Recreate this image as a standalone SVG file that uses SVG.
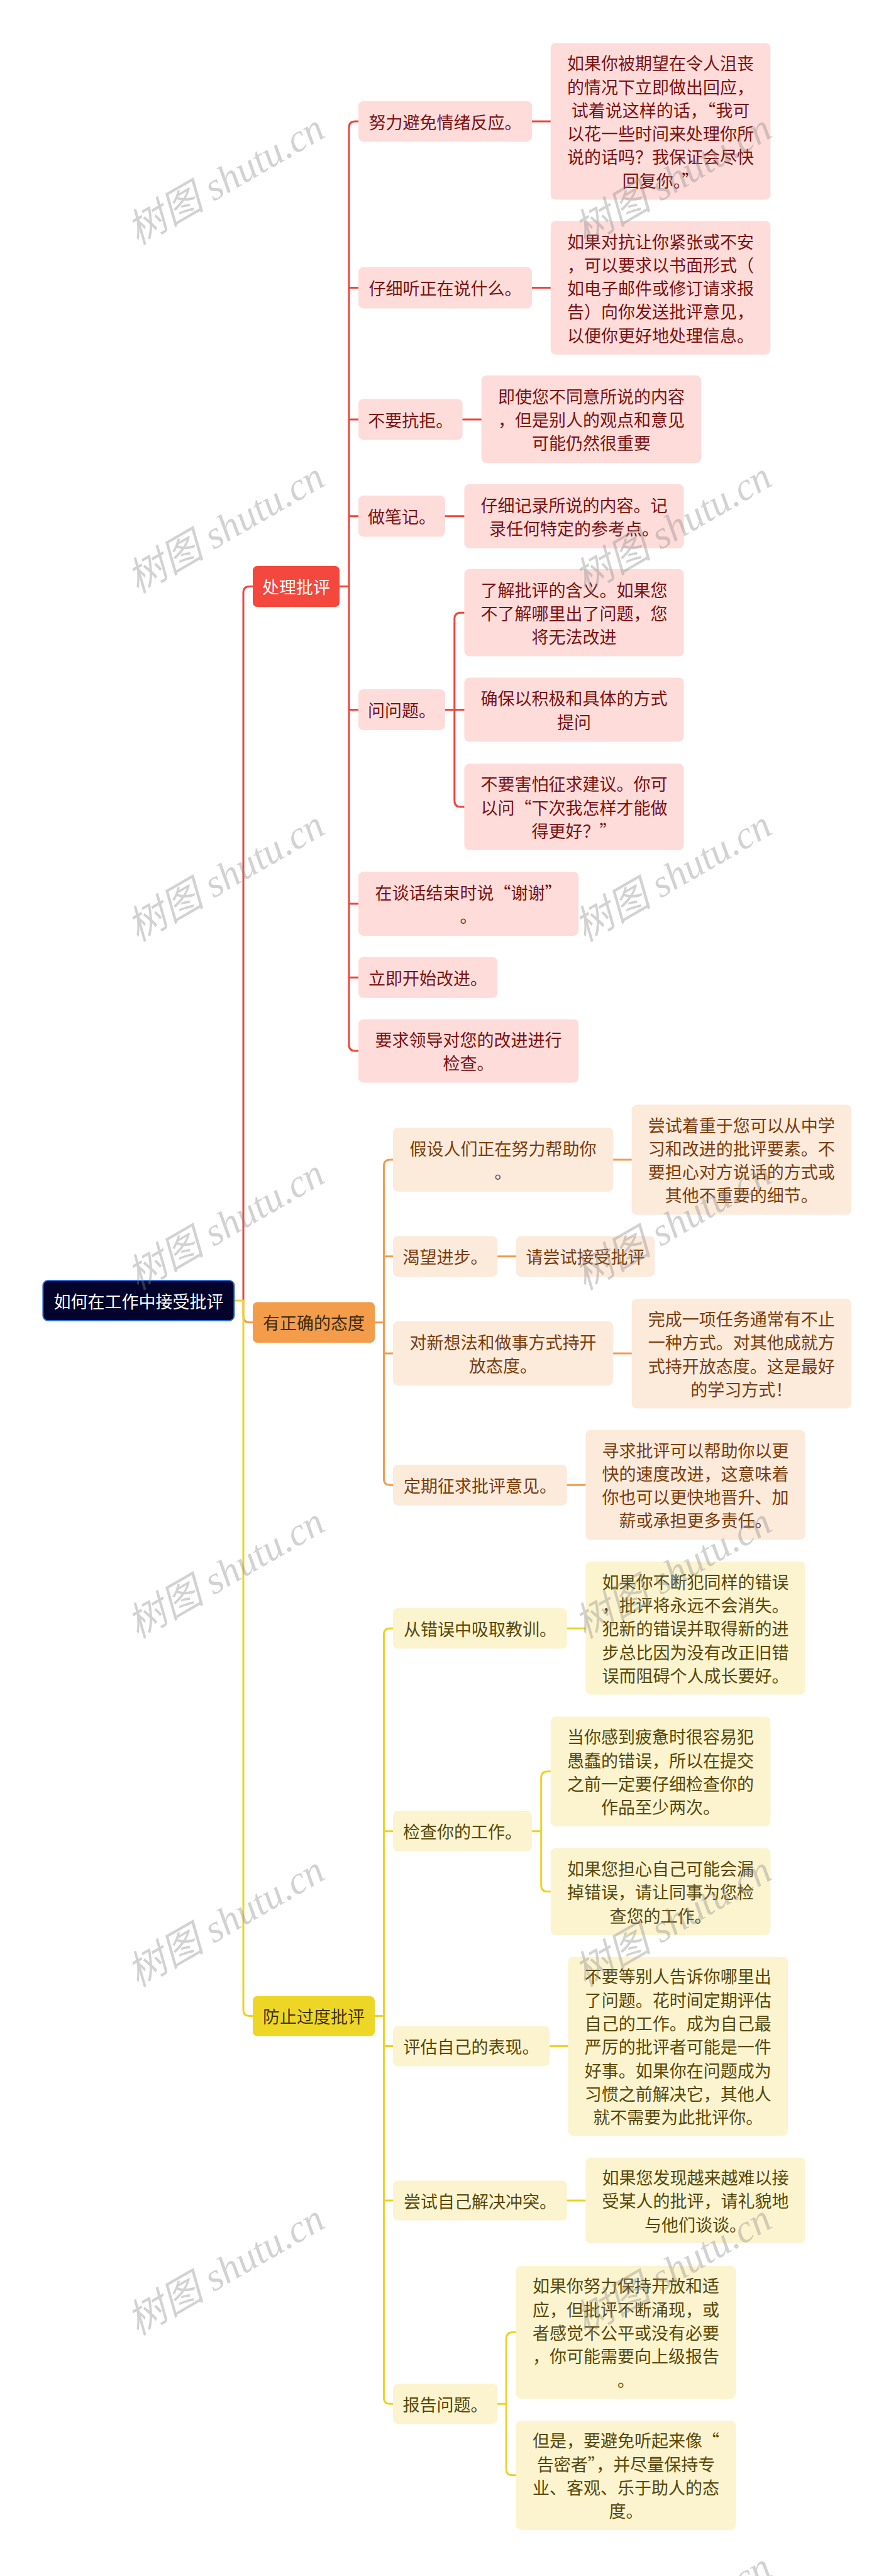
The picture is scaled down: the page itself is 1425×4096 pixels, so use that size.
<svg xmlns="http://www.w3.org/2000/svg" width="1425" height="4096" viewBox="0 0 1425 4096">
<style>
text{font-family:"Noto Sans CJK SC","Liberation Sans",sans-serif;font-size:27px;dominant-baseline:central;text-anchor:middle}
.nr{fill:#FDDCDA}.no{fill:#FCEADB}.ny{fill:#FCF4CF}
.tr{fill:#7A1212}.to{fill:#7A3C0C}.ty{fill:#57470A}
.cr,.co,.cy{fill:none;stroke-width:3;stroke-linecap:round;stroke-linejoin:round}
.cr{stroke:#F0453D}.co{stroke:#F39C4A}.cy{stroke:#EDD226}
.wm{font-family:"Liberation Serif","Noto Sans CJK SC",serif;font-style:italic;font-size:62px;fill:#888;fill-opacity:0.38}
</style>
<rect width="1425" height="4096" fill="#FFFFFF"/>
<g id="connectors">
<path class="cr" d="M387,2068 V942.5 Q387,932.5 397,932.5 H402"/>
<path class="co" d="M387,2068 V2092.7 Q387,2102.7 397,2102.7 H402"/>
<path class="cy" d="M372.5,2068 H387 V3195.5 Q387,3205.5 397,3205.5 H402"/>
<path class="cr" d="M540,932.5 H555 M570,193 H565 Q555,193 555,203 V1661 Q555,1671 565,1671 H570 M555,457.6 H570 M555,667 H570 M555,820.7 H570 M555,1128.5 H570 M555,1437 H570 M555,1554.3 H570"/>
<path class="cr" d="M846,193 H875.7 M846,457.6 H875.7 M735.6,667 H765.6 M707.8,820.7 H738.4"/>
<path class="cr" d="M707.8,1128.5 H722.8 M738.4,974.3 H732.8 Q722.8,974.3 722.8,984.3 V1273 Q722.8,1283 732.8,1283 H738.4 M722.8,1128.4 H738.4"/>
<path class="co" d="M596,2102.7 H610.5 M625,1844 H620.5 Q610.5,1844 610.5,1854 V2351.3 Q610.5,2361.3 620.5,2361.3 H625 M610.5,1997.7 H625 M610.5,2152 H625"/>
<path class="co" d="M975.2,1844 H1004.7 M791.2,1997.7 H820.7 M975.2,2152 H1004.7 M901.8,2361.3 H931.3"/>
<path class="cy" d="M596,3205.5 H610.5 M625,2589.3 H620.5 Q610.5,2589.3 610.5,2599.3 V3812.3 Q610.5,3822.3 620.5,3822.3 H625 M610.5,2911.8 H625 M610.5,3253.4 H625 M610.5,3499 H625"/>
<path class="cy" d="M901.8,2589.3 H931.3 M874,3253.4 H903.5 M901.8,3499 H931.3"/>
<path class="cy" d="M846.2,2911.8 H860.7 M875.7,2816.7 H870.7 Q860.7,2816.7 860.7,2826.7 V2997.7 Q860.7,3007.7 870.7,3007.7 H875.7"/>
<path class="cy" d="M791.2,3822.3 H805.1 M820.7,3708.5 H815.1 Q805.1,3708.5 805.1,3718.5 V3925.8 Q805.1,3935.8 815.1,3935.8 H820.7"/>
</g>
<g id="root"><rect x="68.4" y="2036" width="304" height="64" rx="8" fill="#03032B" stroke="#2B6CD4" stroke-width="2"/><text x="220.4" y="2068" fill="#FFFFFF">如何在工作中接受批评</text></g>
<g id="b1"><rect x="402" y="900" width="138" height="65" rx="7" fill="#F4473D"/><text x="471" y="932.5" fill="#FFFFFF">处理批评</text></g>
<g id="b2"><rect x="402" y="2070.5" width="194" height="64.5" rx="7" fill="#F39C4A"/><text x="499" y="2102.7" fill="#3D2A12">有正确的态度</text></g>
<g id="b3"><rect x="402" y="3174" width="194" height="63.5" rx="7" fill="#EED626"/><text x="499" y="3205.5" fill="#3D3300">防止过度批评</text></g>
<g id="n1"><rect class="nr" x="570" y="160.7" width="276" height="64.5" rx="8"/><text class="tr" x="708" y="193">努力避免情绪反应。</text></g>
<g id="d1"><rect class="nr" x="875.7" y="68.4" width="349.7" height="249.1" rx="8"/><text class="tr" x="1050.5" y="99.75">如果你被期望在令人沮丧</text><text class="tr" x="1050.5" y="137.05">的情况下立即做出回应，</text><text class="tr" x="1050.5" y="174.35">试着说这样的话，“我可</text><text class="tr" x="1050.5" y="211.65">以花一些时间来处理你所</text><text class="tr" x="1050.5" y="248.95">说的话吗？我保证会尽快</text><text class="tr" x="1050.5" y="286.25">回复你。”</text></g>
<g id="n2"><rect class="nr" x="570" y="424.8" width="276" height="65.6" rx="8"/><text class="tr" x="708" y="457.6">仔细听正在说什么。</text></g>
<g id="d2"><rect class="nr" x="875.7" y="351.4" width="349.7" height="212.4" rx="8"/><text class="tr" x="1050.5" y="383">如果对抗让你紧张或不安</text><text class="tr" x="1050.5" y="420.3">，可以要求以书面形式（</text><text class="tr" x="1050.5" y="457.6">如电子邮件或修订请求报</text><text class="tr" x="1050.5" y="494.9">告）向你发送批评意见，</text><text class="tr" x="1050.5" y="532.2">以便你更好地处理信息。</text></g>
<g id="n3"><rect class="nr" x="570" y="634.4" width="165.6" height="65" rx="8"/><text class="tr" x="652.8" y="667">不要抗拒。</text></g>
<g id="d3"><rect class="nr" x="765.6" y="597" width="349.7" height="139" rx="8"/><text class="tr" x="940.5" y="629.2">即使您不同意所说的内容</text><text class="tr" x="940.5" y="666.5">，但是别人的观点和意见</text><text class="tr" x="940.5" y="703.8">可能仍然很重要</text></g>
<g id="n4"><rect class="nr" x="570" y="788" width="137.8" height="65.5" rx="8"/><text class="tr" x="638.9" y="820.7">做笔记。</text></g>
<g id="d4"><rect class="nr" x="738.4" y="770" width="349.1" height="101.8" rx="8"/><text class="tr" x="913" y="802.2">仔细记录所说的内容。记</text><text class="tr" x="913" y="839.6">录任何特定的参考点。</text></g>
<g id="n5"><rect class="nr" x="570" y="1096" width="137.8" height="65" rx="8"/><text class="tr" x="638.9" y="1128.5">问问题。</text></g>
<g id="d5a"><rect class="nr" x="738.4" y="905" width="349.1" height="138.6" rx="8"/><text class="tr" x="913" y="937">了解批评的含义。如果您</text><text class="tr" x="913" y="974.3">不了解哪里出了问题，您</text><text class="tr" x="913" y="1011.6">将无法改进</text></g>
<g id="d5b"><rect class="nr" x="738.4" y="1077.5" width="349.1" height="101.8" rx="8"/><text class="tr" x="913" y="1109.7">确保以积极和具体的方式</text><text class="tr" x="913" y="1147.1">提问</text></g>
<g id="d5c"><rect class="nr" x="738.4" y="1214.3" width="349.1" height="137.3" rx="8"/><text class="tr" x="913" y="1245.7">不要害怕征求建议。你可</text><text class="tr" x="913" y="1283">以问“下次我怎样才能做</text><text class="tr" x="913" y="1320.3">得更好？”</text></g>
<g id="n6"><rect class="nr" x="570" y="1386" width="350.2" height="101.9" rx="8"/><text class="tr" x="745.1" y="1418.3">在谈话结束时说“谢谢”</text><text class="tr" x="745.1" y="1455.6">。</text></g>
<g id="n7"><rect class="nr" x="570" y="1521.8" width="221.2" height="65" rx="8"/><text class="tr" x="680.6" y="1554.3">立即开始改进。</text></g>
<g id="n8"><rect class="nr" x="570" y="1620.7" width="350.2" height="100.7" rx="8"/><text class="tr" x="745.1" y="1652.3">要求领导对您的改进进行</text><text class="tr" x="745.1" y="1689.7">检查。</text></g>
<g id="o1"><rect class="no" x="625" y="1793.1" width="350.2" height="101.7" rx="8"/><text class="to" x="800.1" y="1825.3">假设人们正在努力帮助你</text><text class="to" x="800.1" y="1862.6">。</text></g>
<g id="od1"><rect class="no" x="1004.7" y="1756.4" width="349.2" height="175.1" rx="8"/><text class="to" x="1179.3" y="1788.05">尝试着重于您可以从中学</text><text class="to" x="1179.3" y="1825.35">习和改进的批评要素。不</text><text class="to" x="1179.3" y="1862.65">要担心对方说话的方式或</text><text class="to" x="1179.3" y="1899.95">其他不重要的细节。</text></g>
<g id="o2"><rect class="no" x="625" y="1965.5" width="166.2" height="64.4" rx="8"/><text class="to" x="708.1" y="1997.7">渴望进步。</text></g>
<g id="od2"><rect class="no" x="820.7" y="1965.5" width="220.7" height="64.4" rx="8"/><text class="to" x="931" y="1997.7">请尝试接受批评</text></g>
<g id="o3"><rect class="no" x="625" y="2101.1" width="350.2" height="101.8" rx="8"/><text class="to" x="800.1" y="2133.3">对新想法和做事方式持开</text><text class="to" x="800.1" y="2170.7">放态度。</text></g>
<g id="od3"><rect class="no" x="1004.7" y="2065" width="349.2" height="174.6" rx="8"/><text class="to" x="1179.3" y="2096.4">完成一项任务通常有不止</text><text class="to" x="1179.3" y="2133.7">一种方式。对其他成就方</text><text class="to" x="1179.3" y="2171">式持开放态度。这是最好</text><text class="to" x="1179.3" y="2208.3">的学习方式！</text></g>
<g id="o4"><rect class="no" x="625" y="2329" width="276.8" height="64.6" rx="8"/><text class="to" x="763.4" y="2361.3">定期征求批评意见。</text></g>
<g id="od4"><rect class="no" x="931.3" y="2273.5" width="349.2" height="175.1" rx="8"/><text class="to" x="1105.9" y="2305.05">寻求批评可以帮助你以更</text><text class="to" x="1105.9" y="2342.35">快的速度改进，这意味着</text><text class="to" x="1105.9" y="2379.65">你也可以更快地晋升、加</text><text class="to" x="1105.9" y="2416.95">薪或承担更多责任。</text></g>
<g id="y1"><rect class="ny" x="625" y="2557" width="276.8" height="64.5" rx="8"/><text class="ty" x="763.4" y="2589.3">从错误中吸取教训。</text></g>
<g id="yd1"><rect class="ny" x="931.3" y="2483" width="349.2" height="211.4" rx="8"/><text class="ty" x="1105.9" y="2514.1">如果你不断犯同样的错误</text><text class="ty" x="1105.9" y="2551.4">，批评将永远不会消失。</text><text class="ty" x="1105.9" y="2588.7">犯新的错误并取得新的进</text><text class="ty" x="1105.9" y="2626">步总比因为没有改正旧错</text><text class="ty" x="1105.9" y="2663.3">误而阻碍个人成长要好。</text></g>
<g id="y2"><rect class="ny" x="625" y="2879.5" width="221.2" height="64.5" rx="8"/><text class="ty" x="735.6" y="2911.8">检查你的工作。</text></g>
<g id="yd2a"><rect class="ny" x="875.7" y="2729.4" width="349.7" height="174.6" rx="8"/><text class="ty" x="1050.5" y="2760.75">当你感到疲惫时很容易犯</text><text class="ty" x="1050.5" y="2798.05">愚蠢的错误，所以在提交</text><text class="ty" x="1050.5" y="2835.35">之前一定要仔细检查你的</text><text class="ty" x="1050.5" y="2872.65">作品至少两次。</text></g>
<g id="yd2b"><rect class="ny" x="875.7" y="2938.5" width="349.7" height="138.4" rx="8"/><text class="ty" x="1050.5" y="2970.4">如果您担心自己可能会漏</text><text class="ty" x="1050.5" y="3007.7">掉错误，请让同事为您检</text><text class="ty" x="1050.5" y="3045">查您的工作。</text></g>
<g id="y3"><rect class="ny" x="625" y="3221.5" width="249" height="63.9" rx="8"/><text class="ty" x="749.5" y="3253.4">评估自己的表现。</text></g>
<g id="yd3"><rect class="ny" x="903.5" y="3111.4" width="349.7" height="284.6" rx="8"/><text class="ty" x="1078.3" y="3141.8">不要等别人告诉你哪里出</text><text class="ty" x="1078.3" y="3179.1">了问题。花时间定期评估</text><text class="ty" x="1078.3" y="3216.4">自己的工作。成为自己最</text><text class="ty" x="1078.3" y="3253.7">严厉的批评者可能是一件</text><text class="ty" x="1078.3" y="3291">好事。如果你在问题成为</text><text class="ty" x="1078.3" y="3328.3">习惯之前解决它，其他人</text><text class="ty" x="1078.3" y="3365.6">就不需要为此批评你。</text></g>
<g id="y4"><rect class="ny" x="625" y="3467.2" width="276.8" height="63.4" rx="8"/><text class="ty" x="763.4" y="3499">尝试自己解决冲突。</text></g>
<g id="yd4"><rect class="ny" x="931.3" y="3430.5" width="349.2" height="136.8" rx="8"/><text class="ty" x="1105.9" y="3461.6">如果您发现越来越难以接</text><text class="ty" x="1105.9" y="3498.9">受某人的批评，请礼貌地</text><text class="ty" x="1105.9" y="3536.2">与他们谈谈。</text></g>
<g id="y5"><rect class="ny" x="625" y="3790.3" width="166.2" height="63.9" rx="8"/><text class="ty" x="708.1" y="3822.3">报告问题。</text></g>
<g id="yd5a"><rect class="ny" x="820.7" y="3602.9" width="349.7" height="211.3" rx="8"/><text class="ty" x="995.5" y="3633.9">如果你努力保持开放和适</text><text class="ty" x="995.5" y="3671.2">应，但批评不断涌现，或</text><text class="ty" x="995.5" y="3708.5">者感觉不公平或没有必要</text><text class="ty" x="995.5" y="3745.8">，你可能需要向上级报告</text><text class="ty" x="995.5" y="3783.1">。</text></g>
<g id="yd5b"><rect class="ny" x="820.7" y="3849" width="349.7" height="173.7" rx="8"/><text class="ty" x="995.5" y="3879.85">但是，要避免听起来像“</text><text class="ty" x="995.5" y="3917.15">告密者”，并尽量保持专</text><text class="ty" x="995.5" y="3954.45">业、客观、乐于助人的态</text><text class="ty" x="995.5" y="3991.75">度。</text></g>
<g id="watermarks">
<text class="wm" transform="translate(359,285) rotate(-30)">树图 shutu.cn</text>
<text class="wm" transform="translate(359,839) rotate(-30)">树图 shutu.cn</text>
<text class="wm" transform="translate(359,1393) rotate(-30)">树图 shutu.cn</text>
<text class="wm" transform="translate(359,1947) rotate(-30)">树图 shutu.cn</text>
<text class="wm" transform="translate(359,2501) rotate(-30)">树图 shutu.cn</text>
<text class="wm" transform="translate(359,3055) rotate(-30)">树图 shutu.cn</text>
<text class="wm" transform="translate(359,3609) rotate(-30)">树图 shutu.cn</text>
<text class="wm" transform="translate(1070,285) rotate(-30)">树图 shutu.cn</text>
<text class="wm" transform="translate(1070,839) rotate(-30)">树图 shutu.cn</text>
<text class="wm" transform="translate(1070,1393) rotate(-30)">树图 shutu.cn</text>
<text class="wm" transform="translate(1070,1947) rotate(-30)">树图 shutu.cn</text>
<text class="wm" transform="translate(1070,2501) rotate(-30)">树图 shutu.cn</text>
<text class="wm" transform="translate(1070,3055) rotate(-30)">树图 shutu.cn</text>
<text class="wm" transform="translate(1070,3609) rotate(-30)">树图 shutu.cn</text>
<text class="wm" transform="translate(1070,4163) rotate(-30)">树图 shutu.cn</text>
</g>
</svg>
